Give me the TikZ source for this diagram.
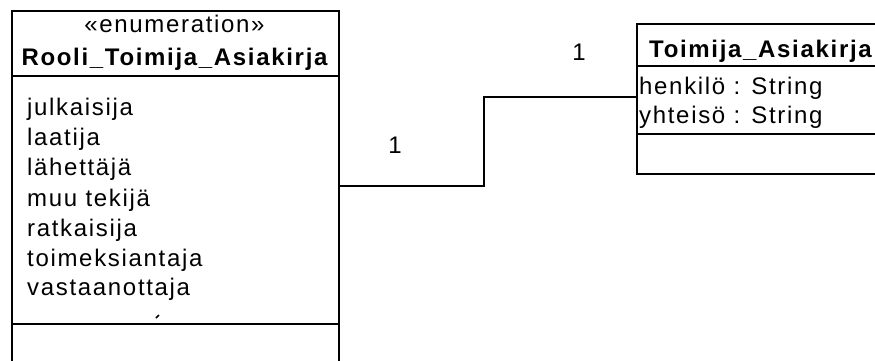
\documentclass[tikz,border=0pt]{standalone}
\usepackage{fontspec}
\setmainfont{Liberation Sans}[LetterSpace=7]
\begin{document}
\begin{tikzpicture}[x=1pt,y=-1pt,
  box/.style={draw, line width=1.8pt, inner sep=0pt, anchor=north west},
  divider/.style={line width=1.8pt},
  conn/.style={line width=1.1pt},
  txt/.style={inner sep=0pt, font=\fontsize{24}{28}\selectfont, anchor=base west},
  ttl/.style={inner sep=0pt, font=\fontsize{24}{28}\selectfont\bfseries, anchor=base},
  mult/.style={inner sep=0pt, font=\fontsize{24}{28}\selectfont}]
\useasboundingbox (0,0) rectangle (875,360);
\clip (0,0) rectangle (875,360);
% left class
\node[box, minimum width=327pt, minimum height=380pt] (enum) at (11,10) {};
\coordinate (ed1) at (11,76);
\coordinate (ed2) at (11,324);
\draw[divider] (enum.west |- ed1) -- (enum.east |- ed1);
\draw[divider] (enum.west |- ed2) -- (enum.east |- ed2);
\node[ttl, font=\fontsize{24}{28}\selectfont] (stereo) at (174.5,32) {«enumeration»};
\node[ttl] (enumname) at (174.5,65) {Rooli\_Toimija\_Asiakirja};
\node[txt] (l1) at (27,115) {julkaisija};
\node[txt] (l2) at (27,145) {laatija};
\node[txt] (l3) at (27,175) {lähettäjä};
\node[txt] (l4) at (27,206) {muu tekijä};
\node[txt] (l5) at (27,236) {ratkaisija};
\node[txt] (l6) at (27,266) {toimeksiantaja};
\node[txt] (l7) at (27,295) {vastaanottaja};
\draw[line width=1.5pt] (156,318) -- (159,315);
% right class
\node[box, minimum width=300pt, minimum height=150pt] (toim) at (636,23) {};
\coordinate (td1) at (636,66);
\coordinate (td2) at (636,134);
\draw[divider] (toim.west |- td1) -- (toim.east |- td1);
\draw[divider] (toim.west |- td2) -- (toim.east |- td2);
\node[txt, font=\fontsize{24}{28}\selectfont\bfseries] (toimname) at (649,57) {Toimija\_Asiakirja};
\node[txt] (a1) at (639,94) {henkilö : String};
\node[txt] (a2) at (639,123) {yhteisö : String};
% association
\coordinate (c1) at (338,186);
\coordinate (c2) at (484,97);
\draw[conn] (enum.east |- c1) -| (c2) -- (toim.west |- c2);
\node[mult] (m1) at (395,145) {1};
\node[mult] (m2) at (579,52) {1};
\end{tikzpicture}
\end{document}
